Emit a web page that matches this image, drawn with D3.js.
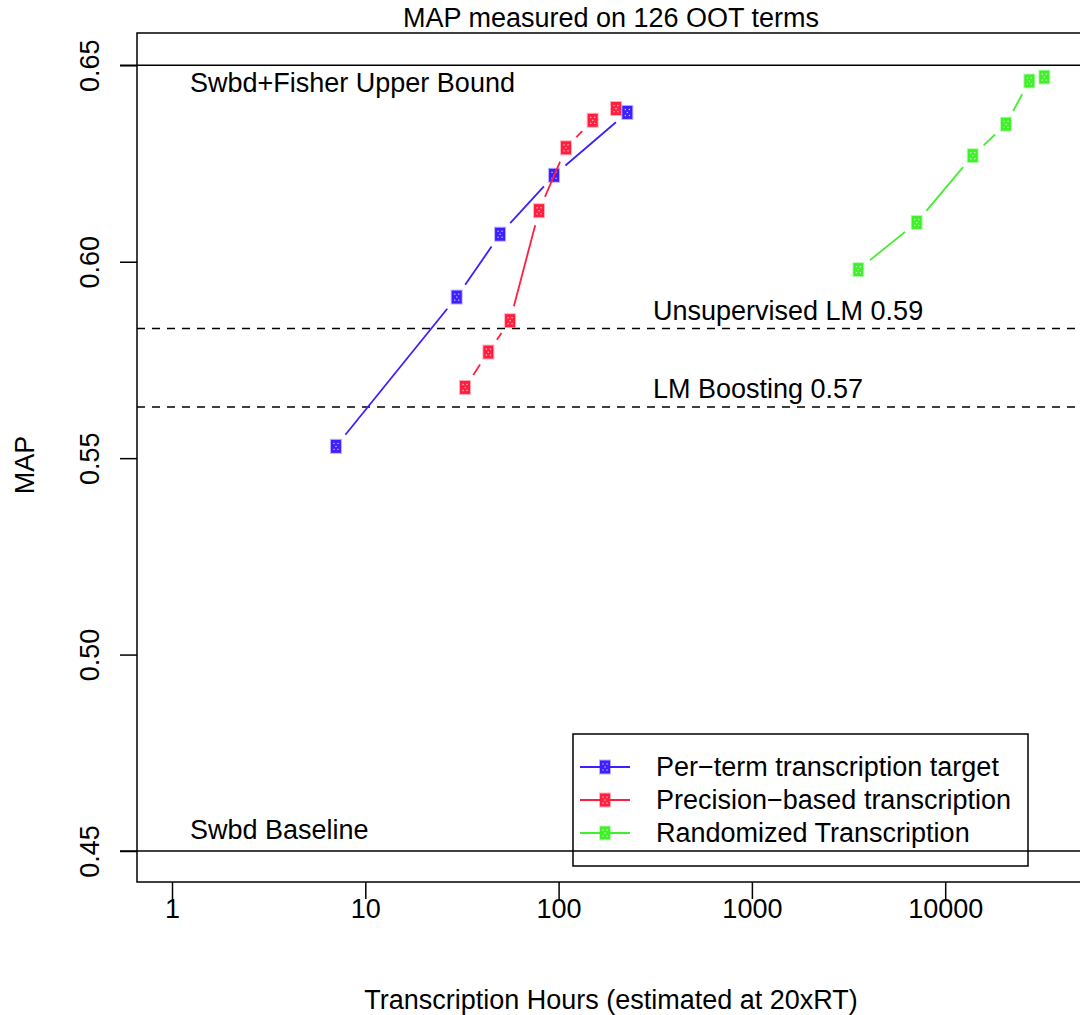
<!DOCTYPE html>
<html>
<head>
<meta charset="utf-8">
<script src="https://cdn.jsdelivr.net/npm/d3@7"></script>
<style>
  body { margin: 0; background: #fff; }
  text { font-family: "Liberation Sans", Arial, sans-serif; fill: #000; }
</style>
</head>
<body>
<div id="chart"></div>
<script>
// Data
const seriesNames = ['Per\u2212term transcription target', 'Precision\u2212based transcription', 'Randomized Transcription']
const seriesColors = ['#3d1fff', '#ff1f3f', '#40f02a']

const perTermHours = [7.05, 29.7, 49.8, 94.7, 226.7]
const perTermMap = [0.553, 0.591, 0.607, 0.622, 0.638]

const precisionHours = [32.8, 43.3, 56.1, 79.2, 109.2, 150.1, 198.1]
const precisionMap = [0.568, 0.577, 0.585, 0.613, 0.629, 0.636, 0.639]

const randomHours = [3553, 7122, 13880, 20630, 27240, 32560]
const randomMap = [0.598, 0.610, 0.627, 0.635, 0.646, 0.647]

const xTicks = [1, 10, 100, 1000, 10000]
const yTicks = [0.45, 0.50, 0.55, 0.60, 0.65]

// reference lines (label above or below the line)
const solidLines = [
	{ v: 0.65, label: 'Swbd+Fisher Upper Bound', above: false },
	{ v: 0.45, label: 'Swbd Baseline', above: true }
]
const dashedLines = [{ v: 0.583, label: 'Unsupervised LM 0.59' }, { v: 0.563, label: 'LM Boosting 0.57' }]

// Set Chart Dimensions
const width = 1080
const height = 1015
const plotLeft = 137
const plotTop = 33
const plotBottom = 882
const plotRight = 1092
const fontSize = 27

let scaleX = d3.scaleLog()
	.domain([1, 10000])
	.range([172, 945.2])
let scaleY = d3.scaleLinear()
	.domain([0.45, 0.65])
	.range([851, 65.3])

let svg = d3.select('#chart')
	.append('svg')
	.attr('width', width)
	.attr('height', height)

// Plot box
svg.append('rect')
	.attr('x', plotLeft)
	.attr('y', plotTop)
	.attr('width', plotRight - plotLeft)
	.attr('height', plotBottom - plotTop)
	.attr('fill', 'none')
	.attr('stroke', '#000')
	.attr('stroke-width', 1.5)

// Y axis
let yAxis = svg.append('g')
	.attr('transform', 'translate(' + plotLeft + ',0)')
	.call(d3.axisLeft(scaleY).tickValues(yTicks).tickSize(17).tickFormat(d3.format('.2f')))
yAxis.select('.domain').remove()
yAxis.selectAll('line').attr('stroke', '#000').attr('stroke-width', 1.5)
yAxis.selectAll('text')
	.attr('transform', 'rotate(-90)')
	.attr('x', 0)
	.attr('y', -38)
	.attr('dy', 0)
	.attr('text-anchor', 'middle')
	.style('font-size', fontSize + 'px')
	.style('font-family', '"Liberation Sans", Arial, sans-serif')

// X axis
let xAxis = svg.append('g')
	.attr('transform', 'translate(0,' + plotBottom + ')')
	.call(d3.axisBottom(scaleX).tickValues(xTicks).tickSize(17).tickFormat(d3.format('d')))
xAxis.select('.domain').remove()
xAxis.selectAll('line').attr('stroke', '#000').attr('stroke-width', 1.5)
xAxis.selectAll('text')
	.attr('y', 36)
	.attr('dy', 0)
	.style('font-size', fontSize + 'px')
	.style('font-family', '"Liberation Sans", Arial, sans-serif')

// Titles
svg.append('text')
	.attr('x', 611).attr('y', 27)
	.attr('text-anchor', 'middle')
	.style('font-size', fontSize + 'px')
	.text('MAP measured on 126 OOT terms')
svg.append('text')
	.attr('x', 611).attr('y', 1009)
	.attr('text-anchor', 'middle')
	.style('font-size', fontSize + 'px')
	.text('Transcription Hours (estimated at 20xRT)')
svg.append('text')
	.attr('transform', 'translate(34,465) rotate(-90)')
	.attr('text-anchor', 'middle')
	.style('font-size', fontSize + 'px')
	.text('MAP')

// Reference lines
solidLines.forEach((ref) => {
	svg.append('line')
		.attr('x1', 120).attr('x2', plotRight)
		.attr('y1', scaleY(ref.v)).attr('y2', scaleY(ref.v))
		.attr('stroke', '#000').attr('stroke-width', 1.5)
	svg.append('text')
		.attr('x', 190).attr('y', scaleY(ref.v) + (ref.above ? -12 : 27))
		.style('font-size', fontSize + 'px')
		.text(ref.label)
})
dashedLines.forEach((ref) => {
	svg.append('line')
		.attr('x1', plotLeft).attr('x2', plotRight)
		.attr('y1', scaleY(ref.v)).attr('y2', scaleY(ref.v))
		.attr('stroke', '#000').attr('stroke-width', 1.5)
		.attr('stroke-dasharray', '8,7')
	svg.append('text')
		.attr('x', 653).attr('y', scaleY(ref.v) - 9)
		.style('font-size', fontSize + 'px')
		.text(ref.label)
})

// Marker: filled box with small light dots
function drawMarker(g, cx, cy, color) {
	let m = g.append('g').attr('transform', 'translate(' + cx + ',' + cy + ')')
	m.append('rect')
		.attr('x', -5).attr('y', -6.5)
		.attr('width', 10).attr('height', 13)
		.attr('fill', color)
		.attr('stroke', color).attr('stroke-opacity', 0.35).attr('stroke-width', 2)
	;[[-2, -3], [2, -3], [0, 0], [-2, 3], [2, 3]].forEach((d) => {
		m.append('rect')
			.attr('x', d[0] - 0.6).attr('y', d[1] - 0.6)
			.attr('width', 1.3).attr('height', 1.3)
			.attr('fill', '#fff').attr('opacity', 0.7)
	})
}

// Lines with gaps around points (type = "b")
const gap = 15
function drawSeries(hours, maps, color) {
	let g = svg.append('g')
	let pts = hours.map((h, i) => [scaleX(h), scaleY(maps[i])])
	for (let i = 0; i < pts.length - 1; i++) {
		let p1 = pts[i]
		let p2 = pts[i + 1]
		let dx = p2[0] - p1[0]
		let dy = p2[1] - p1[1]
		let d = Math.sqrt(dx * dx + dy * dy)
		if (d <= 2 * gap) continue
		let ux = dx / d
		let uy = dy / d
		g.append('line')
			.attr('x1', p1[0] + ux * gap).attr('y1', p1[1] + uy * gap)
			.attr('x2', p2[0] - ux * gap).attr('y2', p2[1] - uy * gap)
			.attr('stroke', color).attr('stroke-width', 1.8)
	}
	pts.forEach((p) => drawMarker(g, p[0], p[1], color))
}

drawSeries(perTermHours, perTermMap, seriesColors[0])
drawSeries(precisionHours, precisionMap, seriesColors[1])
drawSeries(randomHours, randomMap, seriesColors[2])

// Legend
let legend = svg.append('g')
legend.append('rect')
	.attr('x', 573).attr('y', 734)
	.attr('width', 455).attr('height', 132)
	.attr('fill', 'none')
	.attr('stroke', '#000').attr('stroke-width', 1.5)
seriesNames.forEach((name, i) => {
	let yy = 767 + i * 33
	legend.append('line')
		.attr('x1', 580).attr('x2', 630)
		.attr('y1', yy).attr('y2', yy)
		.attr('stroke', seriesColors[i]).attr('stroke-width', 1.8)
	drawMarker(legend, 605, yy, seriesColors[i])
	legend.append('text')
		.attr('x', 656).attr('y', yy + 9)
		.style('font-size', fontSize + 'px')
		.text(name)
})
</script>
</body>
</html>
